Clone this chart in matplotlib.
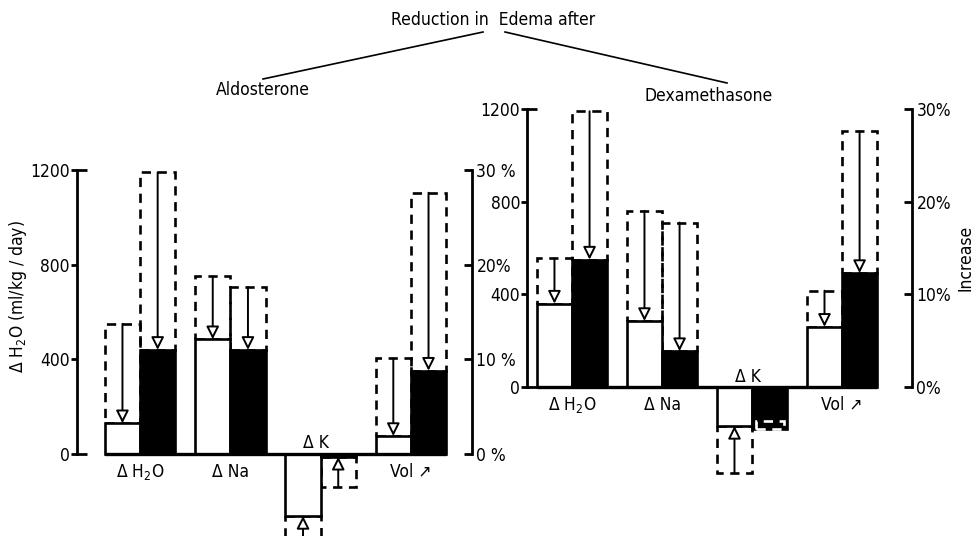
import matplotlib
matplotlib.use('Agg')
import matplotlib.pyplot as plt
from matplotlib.lines import Line2D

plt.rcParams['font.family'] = ['DejaVu Sans']
plt.rcParams['font.stretch'] = 'condensed'
plt.rcParams['mathtext.fontset'] = 'custom'
plt.rcParams['mathtext.rm'] = 'DejaVu Sans:stretch=condensed'
plt.rcParams['mathtext.it'] = 'DejaVu Sans:stretch=condensed'

categories = ['Δ H$_2$O', 'Δ Na', 'Δ K', 'Vol ↗']
pct_per_unit = 40  # 30 % sits level with 1200 ml/kg/day
y_ticks = [0, 400, 800, 1200]
pct_ticks = [0, 10, 20, 30]

# Aldosterone (Vol values in %)
aldo_open_after = [130, 485, -262, 1.9]
aldo_open_before = [550, 750, -370, 10.1]
aldo_solid_after = [440, 440, -12, 8.8]
aldo_solid_before = [1190, 705, -140, 27.6]
aldo_pct_labels = ['0 %', '10 %', '20%', '30 %']

# Dexamethasone (Vol values in %)
dexa_open_after = [360, 285, -168, 6.5]
dexa_open_before = [555, 760, -370, 10.4]
dexa_solid_after = [550, 155, -180, 12.3]
dexa_solid_before = [1190, 710, -145, 27.6]
dexa_pct_labels = ['0%', '10%', '20%', '30%']

W = 0.39
LW = 1.9


def to_units(vals):
    # last category (Vol) is in percent
    return [v * pct_per_unit if i == len(vals) - 1 else v for i, v in enumerate(vals)]


def draw_bars(ax, x, after, before, face):
    for xi, a, b in zip(x, after, before):
        inside = abs(b) < abs(a)
        ec = 'white' if inside else 'black'
        ax.bar(xi, b - a, bottom=a, width=W * (0.8 if inside else 1), fill=False,
               edgecolor=ec, linestyle=(0, (3.5, 2.5)), linewidth=LW,
               zorder=4 if inside else 1)
        ax.bar(xi, a, width=W, color=face, edgecolor='black', linewidth=LW, zorder=2)
        if not inside:
            ax.annotate('', xy=(xi, a), xytext=(xi, b),
                        arrowprops=dict(arrowstyle='-|>', mutation_scale=19,
                                        fc='white', ec='black', lw=1.4,
                                        shrinkA=0, shrinkB=0), zorder=3)


def draw_panel(ax, open_after, open_before, solid_after, solid_before,
               xlim, ylim, left_x, right_x, lab_y, k_lab_y, pct_labels):
    n = len(categories)
    xs = list(range(n))
    x_open = [x - W / 2 for x in xs]
    x_solid = [x + W / 2 for x in xs]

    draw_bars(ax, x_open, to_units(open_after), to_units(open_before), 'white')
    draw_bars(ax, x_solid, to_units(solid_after), to_units(solid_before), 'black')
    ax.hlines(0, x_open[0] - W / 2, x_solid[-1] + W / 2, color='black', lw=2.4, zorder=5)

    for i, lab in enumerate(categories):
        y = k_lab_y if i == 2 else lab_y
        ax.text(xs[i] - (0.05 if i == 2 else 0), y, lab, ha='center', va='center', fontsize=12.5)

    ax.set_xlim(*xlim)
    ax.set_ylim(*ylim)
    ax.set_xticks([])
    ax.patch.set_visible(False)
    for s in ['top', 'bottom', 'right']:
        ax.spines[s].set_visible(False)
    ax.spines['left'].set_position(('data', left_x))
    ax.spines['left'].set_bounds(0, 1200)
    ax.spines['left'].set_linewidth(2)
    ax.set_yticks(y_ticks)
    ax.yaxis.remove_overlapping_locs = False
    ax.set_yticks([0, 1200], minor=True)
    ax.tick_params(axis='y', which='major', direction='out', length=4, width=2,
                   labelsize=12.5, pad=1)
    ax.tick_params(axis='y', which='minor', direction='in', length=7, width=2)

    ax2 = ax.twinx()
    ax2.set_ylim(ylim[0] / pct_per_unit, ylim[1] / pct_per_unit)
    for s in ['top', 'bottom', 'left']:
        ax2.spines[s].set_visible(False)
    ax2.spines['right'].set_position(('data', right_x))
    ax2.spines['right'].set_bounds(0, 30)
    ax2.spines['right'].set_linewidth(2)
    ax2.set_yticks(pct_ticks)
    ax2.set_yticklabels(pct_labels)
    ax2.tick_params(axis='y', direction='in', length=6, width=2, labelsize=12.5, pad=3)
    ax2.patch.set_visible(False)


fig = plt.figure(figsize=(9.75, 5.36), dpi=100)
ax_l = fig.add_axes([0.0742, -0.0015, 0.4167, 0.7285])
ax_r = fig.add_axes([0.5359, 0.0013, 0.4062, 0.8386])

draw_panel(ax_l, aldo_open_after, aldo_open_before, aldo_solid_after, aldo_solid_before,
           (-0.75, 3.75), (-350, 1300), -0.70, 3.68, -76, 46, aldo_pct_labels)
draw_panel(ax_r, dexa_open_after, dexa_open_before, dexa_solid_after, dexa_solid_before,
           (-0.55, 3.85), (-640, 1300), -0.50, 3.78, -78, 43, dexa_pct_labels)

fig.text(493 / 975, 1 - 20 / 536, 'Reduction in  Edema after', ha='center', va='center', fontsize=12.5)
fig.text(263 / 975, 1 - 90 / 536, 'Aldosterone', ha='center', va='center', fontsize=12.5)
fig.text(709 / 975, 1 - 96 / 536, 'Dexamethasone', ha='center', va='center', fontsize=12.5)
fig.add_artist(Line2D([483 / 975, 263 / 975], [1 - 32 / 536, 1 - 79 / 536], color='black', lw=1.2))
fig.add_artist(Line2D([505 / 975, 727 / 975], [1 - 32 / 536, 1 - 83 / 536], color='black', lw=1.2))
fig.text(18 / 975, 1 - 297 / 536, 'Δ H$_2$O (ml/kg / day)', rotation=90, ha='center', va='center', fontsize=12.5)
fig.text(965 / 975, 1 - 258 / 536, 'Increase', rotation=90, ha='center', va='center', fontsize=12.5)

fig.savefig('out.png', dpi=100)
